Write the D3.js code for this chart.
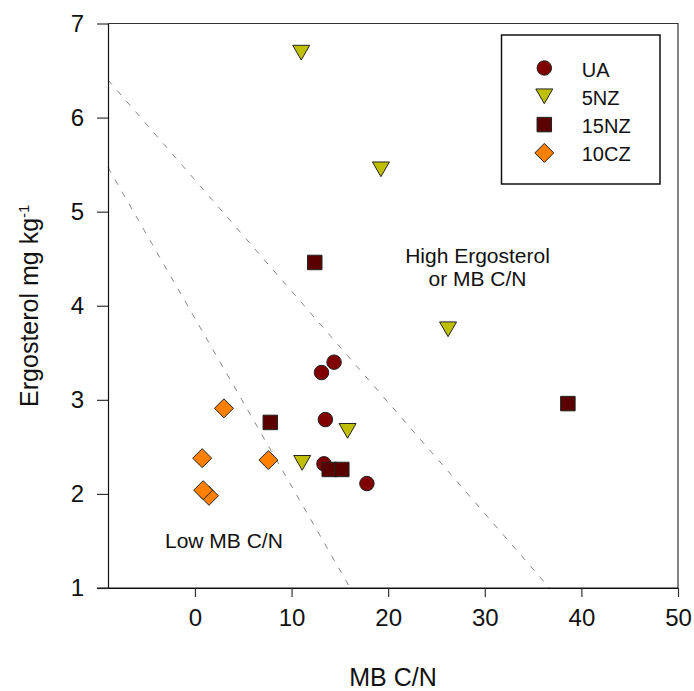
<!DOCTYPE html>
<html>
<head>
<meta charset="utf-8">
<script src="https://cdn.jsdelivr.net/npm/d3@7"></script>
<style>
  html, body { margin: 0; padding: 0; background: #fff; }
  svg { display: block; font-family: "Liberation Sans", Arial, sans-serif; }
</style>
</head>
<body>
<svg id="chart" width="694" height="691"></svg>
<script>
(function () {
    'use strict';

    // series: [MB C/N, ergosterol]
    const seriesNames = ["UA", "5NZ", "15NZ", "10CZ"];
    const uaPoints = [[14.4, 3.40], [13.1, 3.29], [13.5, 2.79], [13.35, 2.32], [17.8, 2.11]];
    const nz5Points = [[11.0, 6.69], [19.25, 5.45], [26.2, 3.75], [15.8, 2.67], [11.1, 2.33]];
    const nz15Points = [[12.4, 4.46], [7.8, 2.76], [13.9, 2.26], [15.2, 2.26], [38.6, 2.96]];
    const cz10Points = [[3.0, 2.91], [0.75, 2.38], [7.6, 2.36], [1.45, 1.98], [0.85, 2.04]];

    // dashed divider lines, end points in data units
    const upperDivider = [[-9, 6.4], [36.7, 1]];
    const lowerDivider = [[-9, 5.47], [16.07, 1]];

    const xTicks = [0, 10, 20, 30, 40, 50];
    const yTicks = [1, 2, 3, 4, 5, 6, 7];

    const notes = [
        { lines: ["High Ergosterol", "or MB C/N"], x: 29.25, y: 4.45 },
        { lines: ["Low MB C/N"], x: 3.0, y: 1.42 }
    ];

    const left = 108, right = 678, top = 23.5, bottom = 588;

    var x = d3.scaleLinear().domain([-9, 50]).range([left, right]);
    var y = d3.scaleLinear().domain([1, 7]).range([bottom, top]);

    var svg = d3.select("#chart");

    // custom symbols so that each marker is centred on its bounding box
    const triDown = {
        draw(ctx, size) {
            let w = Math.sqrt(size * 4 / Math.sqrt(3)), h = w * Math.sqrt(3) / 2;
            ctx.moveTo(-w / 2, -h / 2);
            ctx.lineTo(w / 2, -h / 2);
            ctx.lineTo(0, h / 2);
            ctx.closePath();
        }
    };
    const diamond = {
        draw(ctx, size) {
            let r = Math.sqrt(size / 2);
            ctx.moveTo(0, -r);
            ctx.lineTo(r, 0);
            ctx.lineTo(0, r);
            ctx.lineTo(-r, 0);
            ctx.closePath();
        }
    };

    const styles = {
        "UA": { type: d3.symbolCircle, size: 165, fill: "#800000" },
        "5NZ": { type: triDown, size: 125, fill: "#BFBF00" },
        "15NZ": { type: d3.symbolSquare, size: 210, fill: "#5A0000" },
        "10CZ": { type: diamond, size: 180, fill: "#FF8000" }
    };
    const seriesData = {
        "UA": uaPoints, "5NZ": nz5Points, "15NZ": nz15Points, "10CZ": cz10Points
    };

    function symbolPath(name) {
        return d3.symbol().type(styles[name].type).size(styles[name].size)();
    }

    // frame: top and right sides
    svg.append("path")
        .attr("d", `M${left},${top}H${right}V${bottom}`)
        .attr("fill", "none")
        .attr("stroke", "#333")
        .attr("stroke-width", 1.2);

    // divider lines
    [upperDivider, lowerDivider].forEach(function (seg) {
        svg.append("line")
            .attr("x1", x(seg[0][0])).attr("y1", y(seg[0][1]))
            .attr("x2", x(seg[1][0])).attr("y2", y(seg[1][1]))
            .attr("stroke", "#888")
            .attr("stroke-width", 1)
            .attr("stroke-dasharray", "6,8");
    });

    // axes
    var xAxis = svg.append("g")
        .attr("transform", `translate(0,${bottom})`)
        .call(d3.axisBottom(x).tickValues(xTicks).tickFormat(d3.format("d"))
            .tickSize(9).tickPadding(12).tickSizeOuter(0));
    var yAxis = svg.append("g")
        .attr("transform", `translate(${left},0)`)
        .call(d3.axisLeft(y).tickValues(yTicks).tickFormat(d3.format("d"))
            .tickSize(11).tickPadding(13).tickSizeOuter(0));

    [xAxis, yAxis].forEach(function (g) {
        g.select(".domain").attr("stroke", "#111").attr("stroke-width", 1.2);
        g.selectAll(".tick line").attr("stroke", "#333").attr("stroke-width", 1.2);
        g.selectAll(".tick text")
            .attr("fill", "#111")
            .style("font-size", "24px")
            .style("font-family", "'Liberation Sans', Arial, sans-serif");
    });
    // continue bottom axis line under the y tick at 1
    svg.append("line")
        .attr("x1", left - 11).attr("x2", right)
        .attr("y1", bottom).attr("y2", bottom)
        .attr("stroke", "#111").attr("stroke-width", 1.2);

    // axis titles
    svg.append("text")
        .attr("x", (left + right) / 2)
        .attr("y", 686)
        .attr("text-anchor", "middle")
        .attr("fill", "#111")
        .style("font-size", "25px")
        .text("MB C/N");

    var yTitle = svg.append("text")
        .attr("transform", `translate(38,${(top + bottom) / 2}) rotate(-90)`)
        .attr("text-anchor", "middle")
        .attr("fill", "#111")
        .style("font-size", "25px");
    yTitle.append("tspan").text("Ergosterol mg kg");
    yTitle.append("tspan").attr("dy", "-0.6em").style("font-size", "15px").text("-1");

    // notes inside the plot
    notes.forEach(function (n) {
        var t = svg.append("text")
            .attr("text-anchor", "middle")
            .attr("fill", "#111")
            .style("font-size", "21px");
        n.lines.forEach(function (line, i) {
            t.append("tspan")
                .attr("x", x(n.x))
                .attr("y", y(n.y) + i * 22.7)
                .text(line);
        });
    });

    // points
    seriesNames.forEach(function (name) {
        svg.append("g")
            .selectAll("path")
            .data(seriesData[name])
            .join("path")
            .attr("transform", d => `translate(${x(d[0])},${y(d[1])})`)
            .attr("d", symbolPath(name))
            .attr("fill", styles[name].fill)
            .attr("stroke", "#222")
            .attr("stroke-width", 1);
    });

    // legend
    var legend = svg.append("g");
    legend.append("rect")
        .attr("x", 501.5).attr("y", 35)
        .attr("width", 158.5).attr("height", 149)
        .attr("fill", "#fff")
        .attr("stroke", "#111")
        .attr("stroke-width", 1.5);

    var rows = legend.selectAll("g.row")
        .data(seriesNames)
        .join("g")
        .attr("class", "row")
        .attr("transform", (d, i) => `translate(544.3,${68 + i * 28.3})`);
    rows.append("path")
        .attr("d", d => symbolPath(d))
        .attr("fill", d => styles[d].fill)
        .attr("stroke", "#222")
        .attr("stroke-width", 1);
    rows.append("text")
        .attr("x", 37.4)
        .attr("y", 8.5)
        .attr("fill", "#111")
        .style("font-size", "20px")
        .text(d => d);
})();
</script>
</body>
</html>
